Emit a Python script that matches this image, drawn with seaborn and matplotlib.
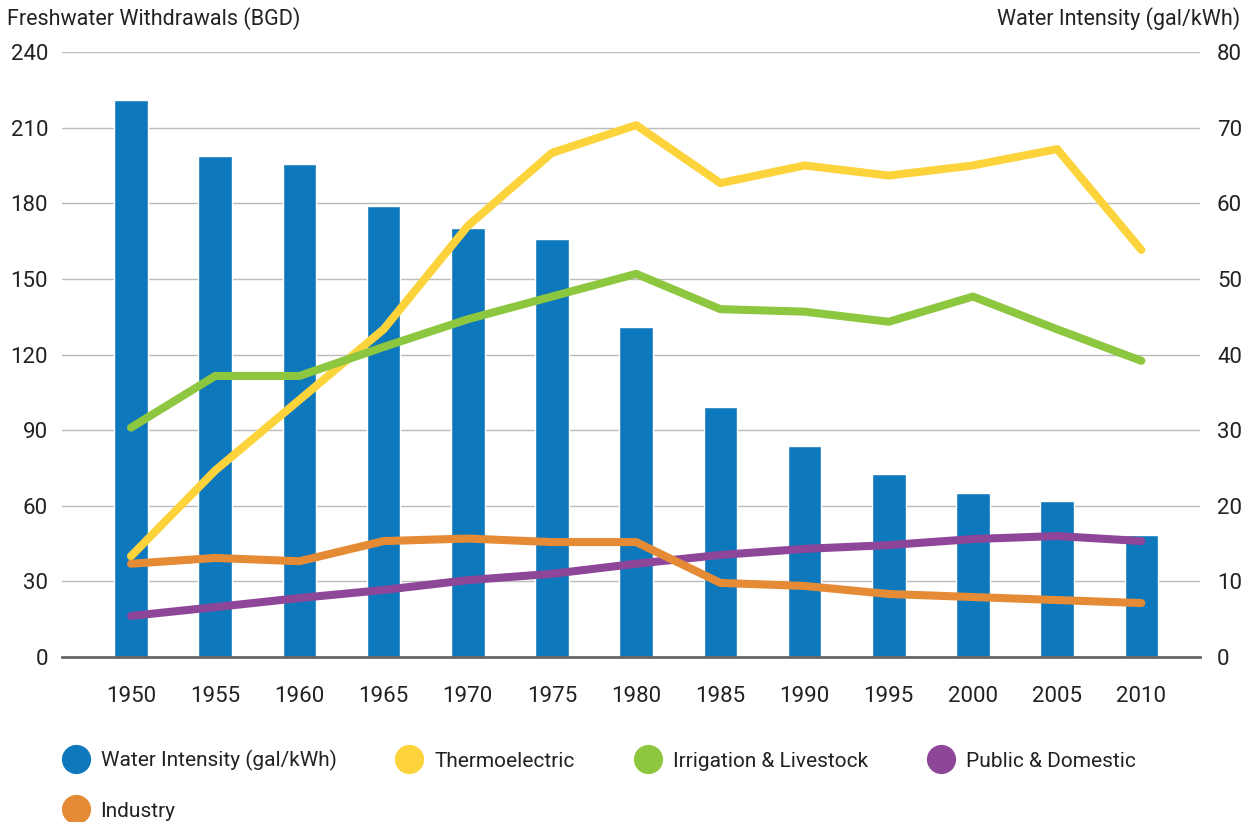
"""Freshwater withdrawals and water intensity chart."""
import pandas as pd
import seaborn as sns
import matplotlib.pyplot as plt
from matplotlib.lines import Line2D

years = ["1950", "1955", "1960", "1965", "1970", "1975", "1980",
         "1985", "1990", "1995", "2000", "2005", "2010"]
intensity = [73.6, 66.2, 65.2, 59.6, 56.7, 55.3, 43.6, 33.1, 27.9, 24.2, 21.7, 20.6, 16.1]
thermo = [40, 74, 102, 130, 171, 200, 211, 188, 195, 191, 195, 201.5, 161.5]
irrigation = [91, 111.5, 111.5, 123, 134, 143, 152, 138, 137, 133, 143, 130, 117.5]
public = [16.3, 19.8, 23.4, 26.6, 30.5, 33, 37, 40.5, 42.9, 44.4, 46.8, 48, 46]
industry = [37, 39.3, 38, 46, 47, 45.6, 45.6, 29.4, 28.2, 25, 23.8, 22.6, 21.4]

colors = {
    "Water Intensity (gal/kWh)": "#0E78BC",
    "Thermoelectric": "#FDD33B",
    "Irrigation & Livestock": "#8DC63F",
    "Public & Domestic": "#8E4699",
    "Industry": "#E58A35",
}

sns.set_theme(style="white")
plt.rcParams["font.family"] = ["Roboto", "DejaVu Sans"]
plt.rcParams["text.color"] = "#222222"

bars = pd.DataFrame({"Year": years, "Intensity": intensity})
lines = pd.DataFrame({
    "Year": years * 4,
    "Value": thermo + irrigation + public + industry,
    "Series": (["Thermoelectric"] * 13 + ["Irrigation & Livestock"] * 13
               + ["Public & Domestic"] * 13 + ["Industry"] * 13),
})

fig = plt.figure(figsize=(12.49, 8.22), dpi=100)
ax = fig.add_axes([0.0496, 0.2007, 0.9114, 0.736])

# bars on the base axes (right scale), lines on the twin (left scale)
sns.barplot(x="Year", y="Intensity", data=bars, color=colors["Water Intensity (gal/kWh)"],
            saturation=1, width=0.4, ax=ax)
ax2 = ax.twinx()
sns.lineplot(x="Year", y="Value", hue="Series", data=lines, sort=False,
             palette=colors, linewidth=5.8, legend=False, ax=ax2,
             solid_capstyle="round")

ax.set_ylim(0, 80)
ax.set_yticks(range(0, 81, 10))
ax.yaxis.tick_right()
ax.grid(axis="y", color="#BBBBBB", linewidth=1)
ax.set_axisbelow(True)
ax2.set_ylim(0, 240)
ax2.set_yticks(range(0, 241, 30))
ax2.yaxis.tick_left()
ax.set_xlim(-0.82, 12.7)

for a in (ax, ax2):
    for s in a.spines.values():
        s.set_visible(False)
    a.set_xlabel("")
    a.set_ylabel("")
    a.tick_params(length=0, labelsize=16, colors="#222222")
ax.spines["bottom"].set_visible(True)
ax.spines["bottom"].set_color("#666666")
ax.spines["bottom"].set_linewidth(2)
ax.tick_params(axis="x", pad=21)
ax.tick_params(axis="y", pad=12)
ax2.tick_params(axis="y", pad=10)

fig.text(0.006, 0.978, "Freshwater Withdrawals (BGD)", fontsize=15.5, va="center", ha="left")
fig.text(0.993, 0.978, "Water Intensity (gal/kWh)", fontsize=15.5, va="center", ha="right")

# column-first fill: put Industry second so it lands under the first entry
order = ["Water Intensity (gal/kWh)", "Industry", "Thermoelectric",
         "Irrigation & Livestock", "Public & Domestic"]
handles = [Line2D([], [], linestyle="none", marker="o", markersize=20,
                  markerfacecolor=colors[k], markeredgecolor=colors[k]) for k in order]
fig.legend(handles, order, ncol=4, loc="lower left",
           bbox_to_anchor=(0.0355, -0.021), frameon=False, fontsize=15,
           handletextpad=0.6, columnspacing=2.9, labelspacing=1.45, handlelength=1.2)

fig.savefig("out.png", dpi=100)
